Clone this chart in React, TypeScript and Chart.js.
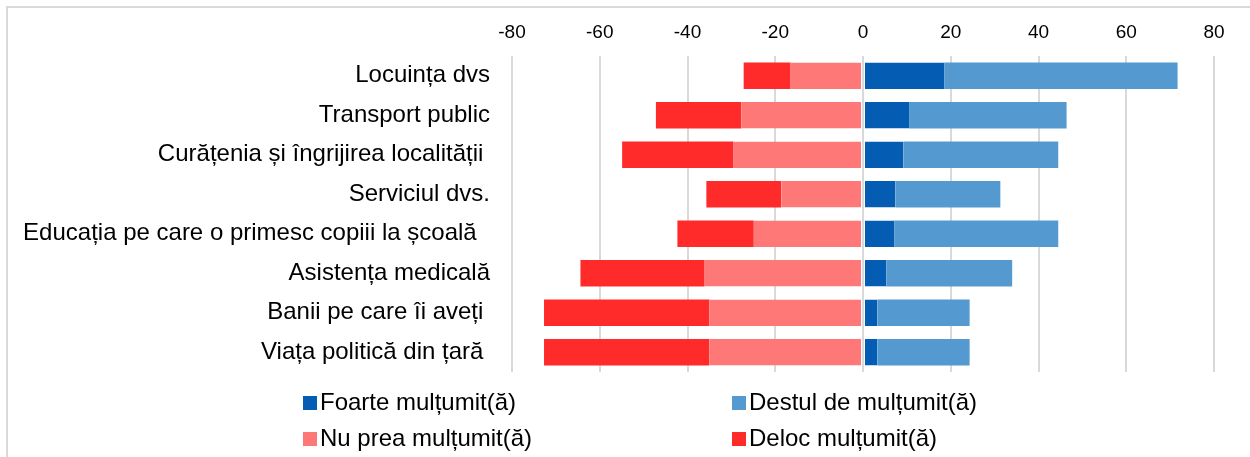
import React, { useEffect, useRef } from "react";
import { Chart, registerables } from "chart.js";

Chart.register(...registerables);

const categories = [
  "Locuința dvs",
  "Transport public",
  "Curățenia și îngrijirea localității ",
  "Serviciul dvs.",
  "Educația pe care o primesc copiii la școală  ",
  "Asistența medicală",
  "Banii pe care îi aveți ",
  "Viața politică din țară ",
];

const foarteMultumit = [18.5, 10.5, 9.2, 7.4, 7.1, 5.3, 3.3, 3.3];
const destulDeMultumit = [53.2, 35.9, 35.3, 23.9, 37.4, 28.7, 21.0, 21.0];
const nuPreaMultumit = [-16.5, -27.7, -29.5, -18.6, -24.9, -36.1, -35.0, -35.0];
const delocMultumit = [-10.7, -19.5, -25.4, -17.1, -17.4, -28.3, -37.7, -37.7];

const seriesNames = [
  "Foarte mulțumit(ă)",
  "Destul de mulțumit(ă)",
  "Nu prea mulțumit(ă)",
  "Deloc mulțumit(ă)",
];
const seriesColors = ["#045CB3", "#5499CF", "#FF7878", "#FF2B2B"];

const xMin = -80;
const xMax = 80;
const xStep = 20;

const FONT = "'Liberation Sans', Arial, sans-serif";

const borderPlugin = {
  id: "frameBorder",
  beforeDraw(chart: any) {
    const ctx = chart.ctx;
    ctx.save();
    ctx.fillStyle = "#ffffff";
    ctx.fillRect(0, 0, chart.width, chart.height);
    ctx.strokeStyle = "#d9d9d9";
    ctx.lineWidth = 2;
    ctx.beginPath();
    ctx.moveTo(7, chart.height + 5);
    ctx.lineTo(7, 7);
    ctx.lineTo(chart.width + 5, 7);
    ctx.stroke();
    ctx.restore();
  },
};

const legendPlugin = {
  id: "gridLegend",
  afterDraw(chart: any) {
    const ctx = chart.ctx;
    ctx.save();
    ctx.font = `24px ${FONT}`;
    ctx.textBaseline = "middle";
    ctx.textAlign = "left";
    const cols = [303, 732];
    const rows = [403, 439];
    chart.data.datasets.forEach((ds: any, i: number) => {
      const x = cols[i % 2];
      const y = rows[Math.floor(i / 2)];
      ctx.fillStyle = ds.backgroundColor;
      ctx.fillRect(x, y - 7, 14, 14);
      ctx.fillStyle = "#000000";
      ctx.fillText(ds.label, x + 17, y);
    });
    ctx.restore();
  },
};

export default function App() {
  const canvasRef = useRef<HTMLCanvasElement | null>(null);

  useEffect(() => {
    document.body.style.margin = "0";
    const canvas = canvasRef.current;
    if (!canvas) return;
    const values = [foarteMultumit, destulDeMultumit, nuPreaMultumit, delocMultumit];
    const chart = new Chart(canvas, {
      type: "bar",
      data: {
        labels: categories,
        datasets: values.map((v, i) => ({
          label: seriesNames[i],
          data: v,
          backgroundColor: seriesColors[i],
          borderColor: "rgba(255,255,255,0)",
          borderWidth:
            i === 0
              ? { left: 1, right: 0, top: 0, bottom: 0 }
              : i === 2
              ? { left: 0, right: 1, top: 0, bottom: 0 }
              : 0,
          borderSkipped: false,
          categoryPercentage: 1,
          barPercentage: 0.67,
        })),
      },
      options: {
        indexAxis: "y",
        animation: false,
        responsive: true,
        maintainAspectRatio: false,
        layout: { padding: { left: 8, right: 36, top: 0, bottom: 85 } },
        plugins: {
          legend: { display: false },
          tooltip: { enabled: false },
        },
        scales: {
          x: {
            type: "linear",
            position: "top",
            stacked: true,
            min: xMin,
            max: xMax,
            ticks: {
              stepSize: xStep,
              color: "#000000",
              font: { family: FONT, size: 19 },
              padding: 12,
            },
            grid: {
              color: "#d9d9d9",
              lineWidth: 2,
              drawTicks: false,
            },
            border: { display: false },
            afterFit(scale: any) {
              scale.height = 56;
            },
          },
          y: {
            stacked: true,
            ticks: {
              color: "#000000",
              font: { family: FONT, size: 24 },
              padding: 22,
            },
            grid: { display: false, drawTicks: false },
            border: { display: false },
            afterFit(scale: any) {
              scale.width = 504;
            },
          },
        },
      },
      plugins: [borderPlugin, legendPlugin],
    } as any);
    return () => chart.destroy();
  }, []);

  return (
    <div style={{ position: "absolute", left: 0, top: 0, width: 1250, height: 457 }}>
      <canvas ref={canvasRef} />
    </div>
  );
}
